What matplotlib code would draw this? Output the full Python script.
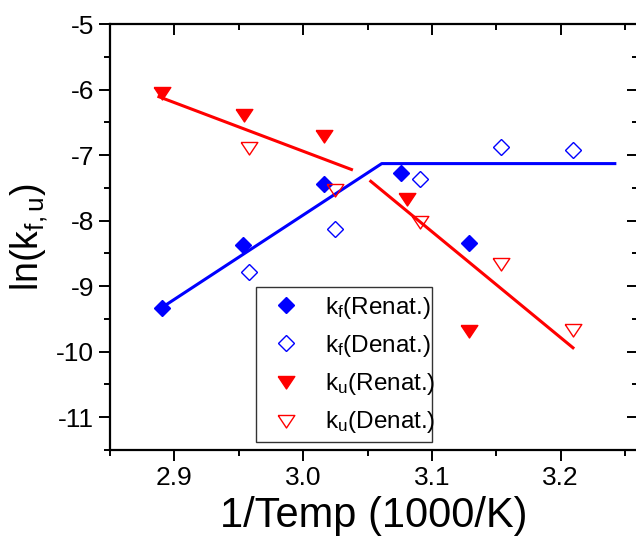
import matplotlib
matplotlib.use("Agg")
import matplotlib.pyplot as plt
from matplotlib.ticker import MultipleLocator
from matplotlib.patches import Rectangle
import numpy as np

plt.rcParams['font.family'] = ['Liberation Sans', 'DejaVu Sans']
plt.rcParams['mathtext.fontset'] = 'custom'
plt.rcParams['mathtext.rm'] = 'Liberation Sans'
plt.rcParams['mathtext.it'] = 'Liberation Sans'
plt.rcParams['axes.unicode_minus'] = False

# Data
kf_renat_x = [2.890, 2.9535, 3.016, 3.076, 3.129]
kf_renat_y = [-9.34, -8.37, -7.44, -7.27, -8.34]
kf_denat_x = [2.958, 3.025, 3.091, 3.154, 3.2095]
kf_denat_y = [-8.78, -8.13, -7.36, -6.88, -6.93]
ku_renat_x = [2.890, 2.9537, 3.016, 3.081, 3.129]
ku_renat_y = [-6.04, -6.38, -6.69, -7.65, -9.67]
ku_denat_x = [2.958, 3.025, 3.091, 3.154, 3.2095]
ku_denat_y = [-6.88, -7.52, -8.00, -8.65, -9.66]

fit_kf_x = [2.890, 3.061, 3.242]
fit_kf_y = [-9.33, -7.13, -7.13]
fit_ku1_x = [2.888, 3.0375]
fit_ku1_y = [-6.11, -7.22]
fit_ku2_x = [3.0525, 3.2095]
fit_ku2_y = [-7.40, -9.94]

labels = [r'k$_\mathrm{f}$(Renat.)', r'k$_\mathrm{f}$(Denat.)',
          r'k$_\mathrm{u}$(Renat.)', r'k$_\mathrm{u}$(Denat.)']

fig = plt.figure(figsize=(6.36, 5.39), dpi=100)
ax = fig.add_axes([110/636, 89/539, 528/636, 426/539])

blue = '#0000ff'
red = '#ff0000'
tri = [(-1, 0.6), (1, 0.6), (0, -0.9), (-1, 0.6)]

ax.plot(fit_kf_x, fit_kf_y, color=blue, lw=2.2, zorder=2)
ax.plot(fit_ku1_x, fit_ku1_y, color=red, lw=2.2, zorder=2)
ax.plot(fit_ku2_x, fit_ku2_y, color=red, lw=2.2, zorder=2)

ax.plot(kf_renat_x, kf_renat_y, ls='none', marker='D', ms=8, color=blue,
        mec=blue, label=labels[0], zorder=3)
ax.plot(kf_denat_x, kf_denat_y, ls='none', marker='D', ms=8, mfc='none',
        mec=blue, mew=1, label=labels[1], zorder=3)
ax.plot(ku_renat_x, ku_renat_y, ls='none', marker=tri, ms=12, color=red,
        mec=red, label=labels[2], zorder=3)
ax.plot(ku_denat_x, ku_denat_y, ls='none', marker=tri, ms=12, mfc='none',
        mec=red, mew=1, label=labels[3], zorder=3)

ax.set_xlim(2.85, 3.26)
ax.set_ylim(-11.5, -5)
ax.xaxis.set_major_locator(MultipleLocator(0.1))
ax.xaxis.set_minor_locator(MultipleLocator(0.05))
ax.yaxis.set_major_locator(MultipleLocator(1))
ax.yaxis.set_minor_locator(MultipleLocator(0.5))
ax.xaxis.set_major_formatter(matplotlib.ticker.FormatStrFormatter('%.1f'))

for s in ax.spines.values():
    s.set_linewidth(1.6)
ax.tick_params(which='both', direction='out', width=1.4, labelsize=19,
               top=True, right=True)
ax.tick_params(which='major', length=8)
ax.tick_params(which='minor', length=4)
for t in ax.xaxis.get_major_ticks() + ax.xaxis.get_minor_ticks():
    t.tick2line.set_marker(matplotlib.lines.TICKDOWN)
for t in ax.yaxis.get_major_ticks() + ax.yaxis.get_minor_ticks():
    t.tick2line.set_marker(matplotlib.lines.TICKLEFT)

ax.set_xlabel('1/Temp (1000/K)', fontsize=30, labelpad=4)
ax.set_ylabel(r'ln(k$_\mathrm{f,u}$)', fontsize=27, labelpad=4)

# legend frame drawn as a plain rectangle (text runs up to the right edge)
ax.add_patch(Rectangle((0.276, 0.018), 0.3345, 0.364, transform=ax.transAxes,
                       facecolor='white', edgecolor='#333333', lw=1.0,
                       zorder=4))
leg = ax.legend(loc='center left', bbox_to_anchor=(0.276, 0.2),
                borderaxespad=0, fontsize=17.5, frameon=False,
                labelspacing=0.5, handlelength=1.65, handletextpad=0.78,
                borderpad=0.4)
leg.set_zorder(5)

fig.savefig('out.png', dpi=100)
